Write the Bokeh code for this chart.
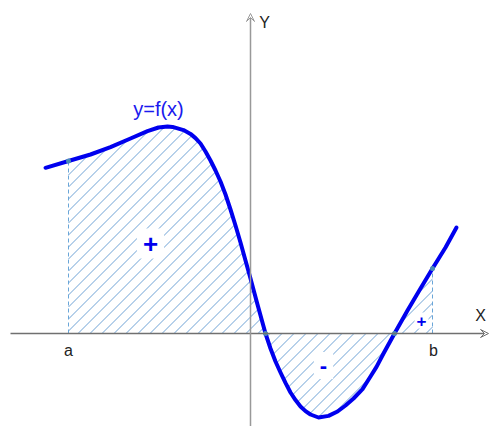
import numpy as np
from bokeh.plotting import figure
from bokeh.models import Range1d, Label, Arrow, VeeHead
from bokeh.embed import file_html
from bokeh.resources import INLINE

# curve y = f(x)
curve_x = [-10.25, -9.1, -8.0, -7.0, -6.0, -5.15, -4.6, -4.15, -3.9, -3.35, -3.0, -2.75,
           -2.5, -2.25, -2.0, -1.75, -1.5, -1.25, -1.0, -0.75, -0.5, -0.25, 0.0, 0.35,
           0.75, 1.0, 1.25, 1.5, 1.75, 2.0, 2.25, 2.5, 2.75, 3.0, 3.4, 3.9, 4.35, 4.75,
           5.15, 5.6, 6.0, 6.3, 6.65, 7.2, 7.85, 8.5, 9.1, 9.75, 10.3]
curve_y = [8.285, 8.625, 8.95, 9.315, 9.75, 10.115, 10.3, 10.35, 10.33, 10.17, 9.98, 9.77,
           9.5, 9.1, 8.65, 8.15, 7.6, 6.95, 6.2, 5.4, 4.55, 3.65, 2.75, 1.45,
           0.0, -0.75, -1.4, -1.95, -2.47, -2.95, -3.33, -3.65, -3.88, -4.05, -4.2, -4.12, -3.9, -3.6,
           -3.25, -2.78, -2.15, -1.67, -1.0, 0.0, 1.15, 2.25, 3.25, 4.3, 5.3]
a_val = -9.1
b_val = 9.1
roots = [0.75, 7.2]
tick_labels = ["a", "b"]

CURVE = "#0000ee"
HATCH = "#6fa3d6"
AXIS = "#707070"

W, H = 489, 426
p = figure(width=W, height=H, output_backend="svg", toolbar_location=None,
           x_range=Range1d(-12.5, (W - 250) / 20), y_range=Range1d((333 - H) / 20, 16.65),
           min_border=0, x_axis_type=None, y_axis_type=None)
p.grid.visible = False
p.outline_line_color = None
p.background_fill_color = "white"

# 45-degree hatch lines clipped to the area between curve and x-axis on [a, b]
cx = np.array(curve_x)
cy = np.array(curve_y)
spacing = 0.6
x0s, y0s, x1s, y1s = [], [], [], []
xs = np.arange(a_val, b_val + 1e-9, 0.005)
fx = np.interp(xs, cx, cy)
lo = np.minimum(fx, 0)
hi = np.maximum(fx, 0)
for c in np.arange(-8.625 - spacing * 30, b_val + spacing, spacing):
    ys = xs - c
    inside = (ys >= lo) & (ys <= hi)
    if not inside.any():
        continue
    idx = np.flatnonzero(inside)
    breaks = np.flatnonzero(np.diff(idx) > 1)
    starts = np.concatenate([[idx[0]], idx[breaks + 1]])
    ends = np.concatenate([idx[breaks], [idx[-1]]])
    for s, e in zip(starts, ends):
        if e - s < 2:
            continue
        x0s.append(xs[s]); y0s.append(ys[s]); x1s.append(xs[e]); y1s.append(ys[e])
p.segment(x0=x0s, y0=y0s, x1=x1s, y1=y1s, line_color=HATCH, line_width=1)

# axes with arrows
p.add_layout(Arrow(x_start=-12.0, y_start=0, x_end=11.9, y_end=0, line_color=AXIS,
                   line_width=1.5, end=VeeHead(size=8, line_color=AXIS, line_width=1, fill_alpha=0)))
p.add_layout(Arrow(x_start=0, y_start=-5, x_end=0, y_end=16.0, line_color="#999999",
                   line_width=1.5, end=VeeHead(size=8, line_color="#999999", line_width=1, fill_alpha=0)))

# dashed verticals at a and b
fa = curve_y[curve_x.index(a_val)]
fb = curve_y[curve_x.index(b_val)]
p.segment(x0=[a_val, b_val], y0=[0, 0], x1=[a_val, b_val], y1=[fa, fb],
          line_color="#6aa6d8", line_width=1, line_dash="4 3")

# curve
p.line(curve_x, curve_y, line_color=CURVE, line_width=4, line_cap="round", line_join="round")

# points
p.scatter(x=[a_val] + roots + [b_val], y=[fa, 0, 0, fb], size=5,
          fill_color="#4a8cb6", line_color=None)

FONT = "Liberation Sans"
def lab(x, y, t, size, color="#222222", style="normal", bg=None, pad=0):
    kw = {}
    if bg:
        kw = dict(background_fill_color=bg, padding=pad)
    p.add_layout(Label(x=x, y=y, text=t, text_font=FONT, text_font_size=size,
                       text_color=color, text_font_style=style, text_align="center",
                       text_baseline="middle", **kw))

lab(-4.6, 11.25, "y=f(x)", "20px", color="#1a1aee")
lab(0.7, 15.55, "Y", "16px")
lab(11.5, 0.9, "X", "16px")
lab(a_val, -0.85, tick_labels[0], "16px")
lab(b_val + 0.05, -0.85, tick_labels[1], "16px")
lab(-5.0, 4.5, "+", "26px", color=CURVE, style="bold", bg="white", pad=6)
lab(3.65, -1.6, "-", "22px", color=CURVE, style="bold", bg="white", pad=6)
lab(8.55, 0.65, "+", "17px", color=CURVE, style="bold", bg="white", pad=2)

open("out.html", "w").write(file_html(p, INLINE))
